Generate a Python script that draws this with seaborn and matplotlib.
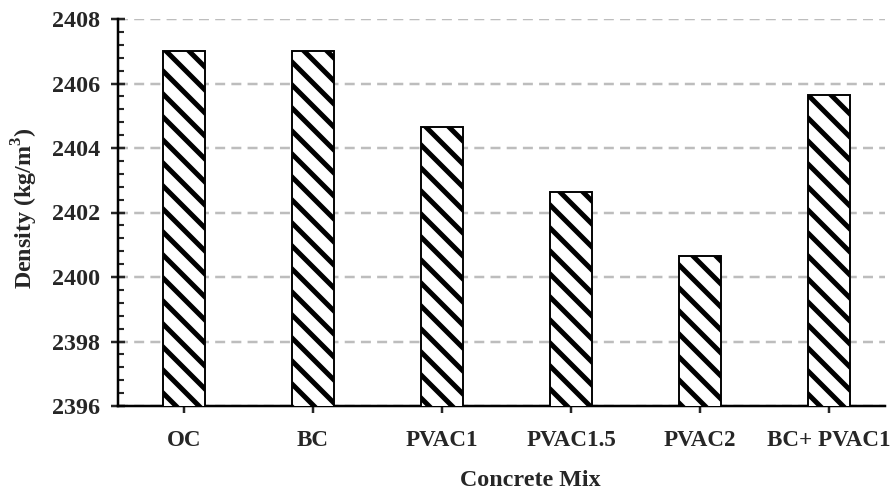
import matplotlib
matplotlib.use('Agg')
import matplotlib.pyplot as plt
from matplotlib.ticker import MultipleLocator
import seaborn as sns
import pandas as pd

mixes = ['OC', 'BC', 'PVAC1', 'PVAC1.5', 'PVAC2', 'BC+ PVAC1']
density = [2407.0, 2407.0, 2404.65, 2402.65, 2400.65, 2405.65]

sns.set_style('white')
plt.rcParams['font.family'] = ['Liberation Serif', 'DejaVu Serif']
plt.rcParams['font.weight'] = 'bold'
plt.rcParams['mathtext.fontset'] = 'custom'
plt.rcParams['mathtext.rm'] = 'Liberation Serif:bold'
plt.rcParams['mathtext.bf'] = 'Liberation Serif:bold'
plt.rcParams['hatch.linewidth'] = 2.6
plt.rcParams['hatch.color'] = 'black'

DPI = 138
fig = plt.figure(figsize=(892 / DPI, 495 / DPI), dpi=DPI)
ax = fig.add_axes([118 / 892, 1 - 406 / 495, (885 - 118) / 892, (406 - 19) / 495])

df = pd.DataFrame({'Mix': mixes, 'Density': density})
sns.barplot(data=df, x='Mix', y='Density', color='white', width=0.32,
            edgecolor='black', linewidth=1.0, ax=ax, zorder=3)
for bar in ax.patches:
    bar.set_hatch('\\\\')
    bar.set_facecolor('white')

ax.set_ylim(2396, 2408)
ax.set_xlim(-0.512, 5.434)
ax.yaxis.set_major_locator(MultipleLocator(2))
ax.yaxis.set_minor_locator(MultipleLocator(0.4))
ax.grid(axis='y', color='#bdbdbd', linestyle=(0, (4, 2.5)), linewidth=1.3, zorder=0)
ax.set_axisbelow(True)

for s in ['top', 'right']:
    ax.spines[s].set_visible(False)
for s in ['left', 'bottom']:
    ax.spines[s].set_color('black')
    ax.spines[s].set_linewidth(1.3)

ax.tick_params(axis='y', which='major', direction='inout', length=7, width=1.3,
               labelsize=12.5, pad=6, left=True)
ax.tick_params(axis='y', which='minor', direction='in', length=3, width=1.1, left=True)
ax.tick_params(axis='x', which='major', direction='out', length=3.5, width=1.3,
               labelsize=12, pad=9, bottom=True)
for lbl in ax.get_xticklabels() + ax.get_yticklabels():
    lbl.set_fontweight('bold')

ax.set_xlabel('Concrete Mix', fontsize=12.5, fontweight='bold')
ax.set_ylabel('Density (kg/m$^3$)', fontsize=12.5, fontweight='bold')
ax.xaxis.set_label_coords(0.538, -0.165)
ax.yaxis.set_label_coords(-0.102, 0.512)

fig.savefig('out.png', dpi=DPI)
